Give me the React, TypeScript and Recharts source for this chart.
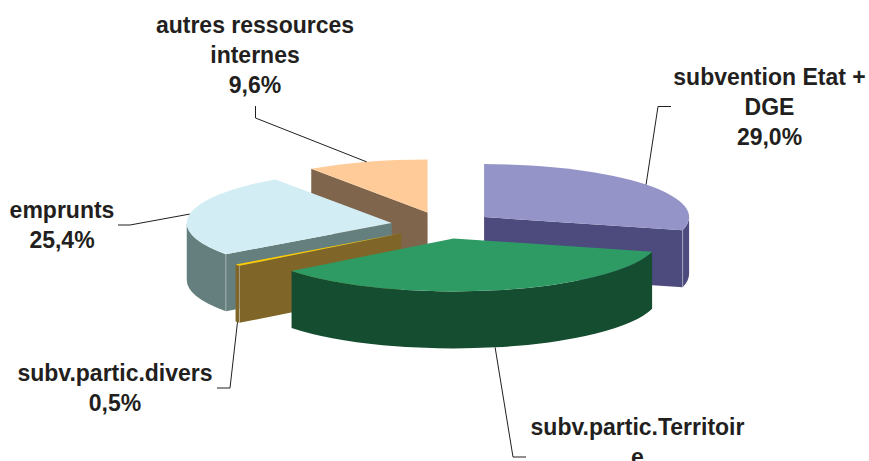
import { Pie, PieChart } from "recharts";

// funding shares, in percent, listed in paint order (back slices first)
const categories = [
  "subvention Etat + DGE",
  "autres ressources internes",
  "emprunts",
  "subv.partic.divers",
  "subv.partic.Territoire",
];
const shares = [29.0, 9.6, 25.4, 0.5, 35.5];
const labelLines = [
  ["subvention Etat +", "DGE"],
  ["autres ressources", "internes"],
  ["emprunts"],
  ["subv.partic.divers"],
  ["subv.partic.Territoir", "e"],
];

const TOP_COLORS = ["#9594C8", "#FFCC99", "#D3EDF5", "#FFCC00", "#2E9B64"];
const WALL_COLORS = ["#4D4A7E", "#7F654B", "#647F7E", "#7F6628", "#154D30"];

const WIDTH = 869;
const HEIGHT = 461;
const CX = 443;
const CY = 225.3;
const RADIUS = 205;
const TILT = 0.2585;
const DEPTH = 57;
const EXPLODE = 52;
const LINE_HEIGHT = 30.2;

// text anchor and leader route for each label, same order as the shares
const LABEL_LAYOUT = [
  { x: 769.5, y: 84.5, route: [[658, 106.5], [671, 106.5]] },
  { x: 255, y: 33, route: [[255.5, 118], [255.5, 106]] },
  { x: 62, y: 217.5, route: [[130, 225], [118, 225]] },
  { x: 115, y: 381, route: [[230, 388], [217, 388]] },
  { x: 637.5, y: 435, route: [[513, 457], [526, 457]] },
];

const rad = (deg: number) => (deg * Math.PI) / 180;

// flatten a clockwise-from-north angle onto the tilted disc
function project(ax: number, ay: number, r: number, t: number) {
  return { x: ax + r * Math.sin(rad(t)), y: ay - r * TILT * Math.cos(rad(t)) };
}

function explodedApex(cx: number, cy: number, midAngle: number) {
  return project(cx, cy, EXPLODE, 90 - midAngle);
}

function arcTo(r: number, p: { x: number; y: number }, large: boolean, sweep: boolean) {
  return `A${r} ${r * TILT} 0 ${large ? 1 : 0} ${sweep ? 1 : 0} ${p.x} ${p.y}`;
}

function Slice3D(props: any) {
  const { cx, cy, outerRadius: r, startAngle, endAngle, midAngle, index } = props;
  const span = endAngle - startAngle;
  // rounded so float noise around north does not push the slice a full turn on
  let t0 = Math.round((90 - endAngle) * 1000) / 1000;
  if (t0 < 0) t0 += 360;
  const t1 = t0 + span;
  const a = explodedApex(cx, cy, midAngle);
  const p0 = project(a.x, a.y, r, t0);
  const p1 = project(a.x, a.y, r, t1);
  const top = TOP_COLORS[index];
  const wall = WALL_COLORS[index];

  const radialWall = (p: { x: number; y: number }) =>
    `M${a.x} ${a.y}L${p.x} ${p.y}L${p.x} ${p.y + DEPTH}L${a.x} ${a.y + DEPTH}Z`;

  const from = Math.max(t0, 90);
  const to = Math.min(t1, 270);
  let outer = "";
  if (to > from) {
    const s = project(a.x, a.y, r, from);
    const e = project(a.x, a.y, r, to);
    outer =
      `M${s.x} ${s.y}` +
      arcTo(r, e, false, true) +
      `L${e.x} ${e.y + DEPTH}` +
      arcTo(r, { x: s.x, y: s.y + DEPTH }, false, false) +
      "Z";
  }

  const showStart = Math.sin(rad(t0)) < -0.001;
  const showEnd = Math.sin(rad(t1)) > 0.001;
  const seam = showStart ? p0 : showEnd ? p1 : null;

  return (
    <g>
      {showStart && <path d={radialWall(p0)} fill={wall} />}
      {showEnd && <path d={radialWall(p1)} fill={wall} />}
      {outer && <path d={outer} fill={wall} />}
      {seam && outer && (
        <line x1={seam.x} y1={seam.y} x2={seam.x} y2={seam.y + DEPTH} stroke="#fff" strokeOpacity={0.35} />
      )}
      <path
        d={`M${a.x} ${a.y}L${p0.x} ${p0.y}` + arcTo(r, p1, span > 180, true) + "Z"}
        fill={top}
      />
    </g>
  );
}

function SliceLabel(props: any) {
  const { cx, cy, outerRadius: r, midAngle, index } = props;
  const layout = LABEL_LAYOUT[index];
  const t = 90 - midAngle;
  const a = explodedApex(cx, cy, midAngle);
  const rim = project(a.x, a.y, r, t);
  const startY = Math.cos(rad(t)) < 0 ? rim.y + DEPTH : rim.y;
  const points = [[rim.x, startY], ...layout.route].map((p) => p.join(",")).join(" ");
  const lines = [...labelLines[index], shares[index].toFixed(1).replace(".", ",") + "%"];

  return (
    <g>
      <polyline points={points} fill="none" stroke="#231F20" strokeWidth={1} />
      <text
        x={layout.x}
        y={layout.y}
        textAnchor="middle"
        fontFamily="'Liberation Sans', Arial, sans-serif"
        fontWeight={700}
        fontSize={23}
        fill="#231F20"
      >
        {lines.map((line, i) => (
          <tspan key={i} x={layout.x} y={layout.y + i * LINE_HEIGHT}>
            {line}
          </tspan>
        ))}
      </text>
    </g>
  );
}

export default function App() {
  const data = categories.map((name, i) => ({ name, value: shares[i] }));
  const firstAngle = 90 - (shares[0] / 100) * 360;

  return (
    <div style={{ position: "fixed", left: 0, top: 0, width: WIDTH, height: HEIGHT, overflow: "hidden", background: "#fff" }}>
      <PieChart width={WIDTH} height={HEIGHT} margin={{ top: 0, right: 0, bottom: 0, left: 0 }}>
        <Pie
          data={data}
          dataKey="value"
          nameKey="name"
          cx={CX}
          cy={CY}
          innerRadius={0}
          outerRadius={RADIUS}
          startAngle={firstAngle}
          endAngle={firstAngle + 360}
          stroke="none"
          shape={Slice3D}
          label={SliceLabel}
          labelLine={false}
          isAnimationActive={false}
        />
      </PieChart>
    </div>
  );
}
